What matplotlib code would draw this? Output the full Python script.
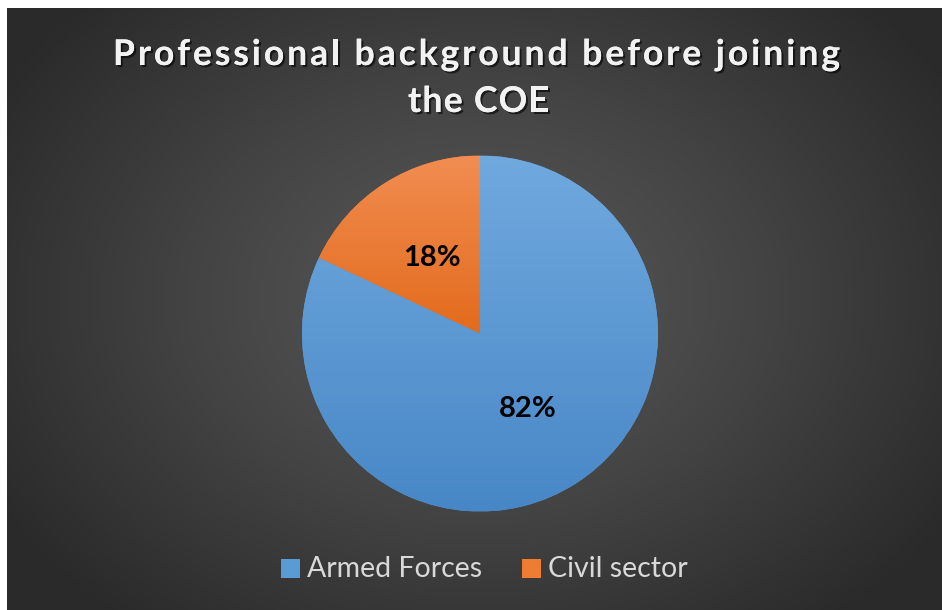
import numpy as np
import matplotlib.pyplot as plt
import matplotlib.patheffects as pe
from matplotlib.colors import LinearSegmentedColormap

labels = ['Armed Forces', 'Civil sector']
shares = [82, 18]
title_lines = ['Professional background before joining', 'the COE']

W, H = 942, 610
fig = plt.figure(figsize=(W / 100, H / 100), dpi=100)
fig.patch.set_facecolor('white')

def px(x, y):
    return x / W, 1 - y / H

# dark radial background, chart area inset from top/left
bg = fig.add_axes([7 / W, 0, 1 - 7 / W, 1 - 8 / H])
bg.set_axis_off()
yy, xx = np.mgrid[0:602, 0:935]
d = np.sqrt(((xx - 470) / 560.0) ** 2 + ((yy - 290) / 420.0) ** 2)
d = np.clip(d, 0, 1)
bg_cmap = LinearSegmentedColormap.from_list('bg', ['#5a5a5a', '#444444', '#2a2a2a'])
bg.imshow(d, cmap=bg_cmap, aspect='auto', interpolation='bilinear', vmin=0, vmax=1)

# pie axes: centre (480, 333.5), radius 178 px
r = 178
cx, cy = 480, 333.5
ax = fig.add_axes([(cx - r) / W, 1 - (cy + r) / H, 2 * r / W, 2 * r / H])
ax.set_axis_off()

wedges, _, autotexts = ax.pie(
    shares, startangle=90, counterclock=False, radius=1,
    autopct='%1.0f%%', pctdistance=0.5,
    colors=['#5b9bd5', '#ed7d31'],
    wedgeprops=dict(linewidth=0),
    textprops=dict(color='black', fontsize=21, fontweight='bold', family='Lato'))
ax.set_xlim(-1, 1)
ax.set_ylim(-1, 1)

grads = [('#70a9de', '#4887c7', -1, 1), ('#f18d52', '#e36b1c', 0, 1)]
for w, (top, bot, y0, y1) in zip(wedges, grads):
    cm = LinearSegmentedColormap.from_list('g', [bot, top])
    g = np.linspace(0, 1, 256).reshape(-1, 1)
    im = ax.imshow(g, cmap=cm, extent=[-1, 1, y0, y1], origin='lower',
                   aspect='auto', zorder=w.get_zorder() + 0.5)
    im.set_clip_path(w)
for t in autotexts:
    t.set_zorder(5)

# title: letter-spaced, with a soft shadow
shadow = [pe.withSimplePatchShadow(offset=(1.5, -1.5), shadow_rgbFace='black', alpha=0.6),
          pe.Normal()]
renderer = fig.canvas.get_renderer()
tkw = dict(color='#f2f2f2', fontsize=25.5, fontweight='bold', family='Lato',
           va='center', ha='left', path_effects=shadow)

def text_width(s):
    if not s:
        return 0.0
    t = fig.text(0, 0, s, **tkw)
    w = t.get_window_extent(renderer).width
    t.remove()
    return w

def tracked_line(s, xc, y, width):
    natural = text_width(s)
    track = (width - natural) / (len(s) - 1)
    x0 = xc - width / 2
    for i, ch in enumerate(s):
        if ch == ' ':
            continue
        x = x0 + text_width(s[:i].replace(' ', '\u00a0')) + i * track
        fig.text(*px(x, y), ch, **tkw)

tracked_line(title_lines[0], 476.5, 55, 727)
tracked_line(title_lines[1], 478.5, 102, 141)

# legend
colors = ['#5b9bd5', '#ed7d31']
sq = 19
for x, c in zip([281, 522], colors):
    fig.patches.append(plt.Rectangle(px(x, 578), sq / W, sq / H, transform=fig.transFigure,
                                     facecolor=c, edgecolor='none'))
for x, lab in zip([307, 548], labels):
    fig.text(*px(x, 569), lab, ha='left', va='center', color='#d9d9d9',
             fontsize=20.5, family='Lato')

fig.savefig('out.png', dpi=100, facecolor=fig.get_facecolor())
